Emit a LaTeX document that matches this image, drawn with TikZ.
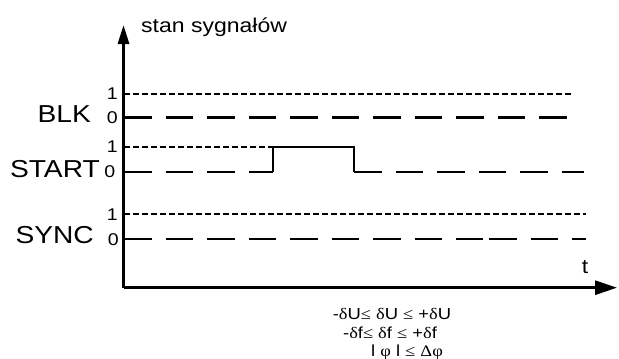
\documentclass[tikz,border=0pt]{standalone}
\usepackage{fontspec}
\setmainfont[FakeStretch=1.15]{Liberation Sans}
\newfontfamily\grk[FakeStretch=1.15]{Liberation Serif}
\usetikzlibrary{arrows.meta}
\tikzset{
  axisline/.style={line width=3pt},
  lo/.style={line width=2.8pt, dash pattern=on 27.5pt off 14pt},
  hi/.style={line width=2.4pt, dash pattern=on 5.5pt off 3.5pt},
  sig/.style={line width=2.4pt},
  lbl/.style={font=\fontsize{24.5}{24.5}\selectfont, inner sep=0pt},
  dig/.style={font=\fontsize{17}{17}\selectfont, inner sep=0pt},
  ttl/.style={font=\fontsize{20}{20}\selectfont, inner sep=0pt},
  eq/.style={font=\fontsize{16}{16}\selectfont, inner sep=0pt},
}
\newcommand{\g}[1]{{\grk #1}}
\begin{document}
\begin{tikzpicture}[x=1pt,y=-1pt]
\useasboundingbox (0,0) rectangle (619,359);
% axes
\coordinate (O) at (123.5,287.7);
\coordinate (Ytop) at (123.5,25);
\coordinate (Xend) at (617,287.7);
\draw[axisline,line join=miter,-{Triangle[length=19pt,width=11pt]}] (O) -- (Ytop);
\draw[axisline,-{Triangle[length=22pt,width=14pt]}] (O) -- (Xend);
% BLK
\draw[hi] (124,94) -- (573,94);
\draw[lo] (124,117.5) -- (567,117.5);
% START
\draw[hi] (124,147) -- (287,147);
\draw[lo] (124,172) -- (273,172);
\draw[sig,line join=miter] (273,172) -- (273,147) -- (354,147) -- (354,172);
\draw[lo] (354,172) -- (584,172);
% SYNC
\draw[hi] (124,214) -- (586,214);
\draw[lo] (124,239) -- (483,239);
\draw[lo] (489,239) -- (586,239);
% labels
\node[ttl,anchor=base west] (title) at (141,32) {stan sygnałów};
\node[lbl,anchor=base east] (blk) at (91,122) {BLK};
\node[lbl,anchor=base east] (start) at (100,177) {START};
\node[lbl,anchor=base east] (sync) at (94,243) {SYNC};
\node[dig,anchor=base east] (b1) at (118,99) {1};
\node[dig,anchor=base east] (b0) at (118,123) {0};
\node[dig,anchor=base east] (s1) at (118,152) {1};
\node[dig,anchor=base east] (s0) at (115.5,177) {0};
\node[dig,anchor=base east] (y1) at (118,220) {1};
\node[dig,anchor=base east] (y0) at (119,245) {0};
\node[ttl,anchor=base] (t) at (585,273) {t};
\node[eq,anchor=base] (e1) at (392,319) {-\g{δ}U\g{≤} \g{δ}U \g{≤} +\g{δ}U};
\node[eq,anchor=base] (e2) at (390,338) {-\g{δ}f\g{≤} \g{δ}f \g{≤} +\g{δ}f};
\node[eq,anchor=base] (e3) at (407,356) {l \g{φ} l \g{≤} \g{Δφ}};
\end{tikzpicture}
\end{document}
